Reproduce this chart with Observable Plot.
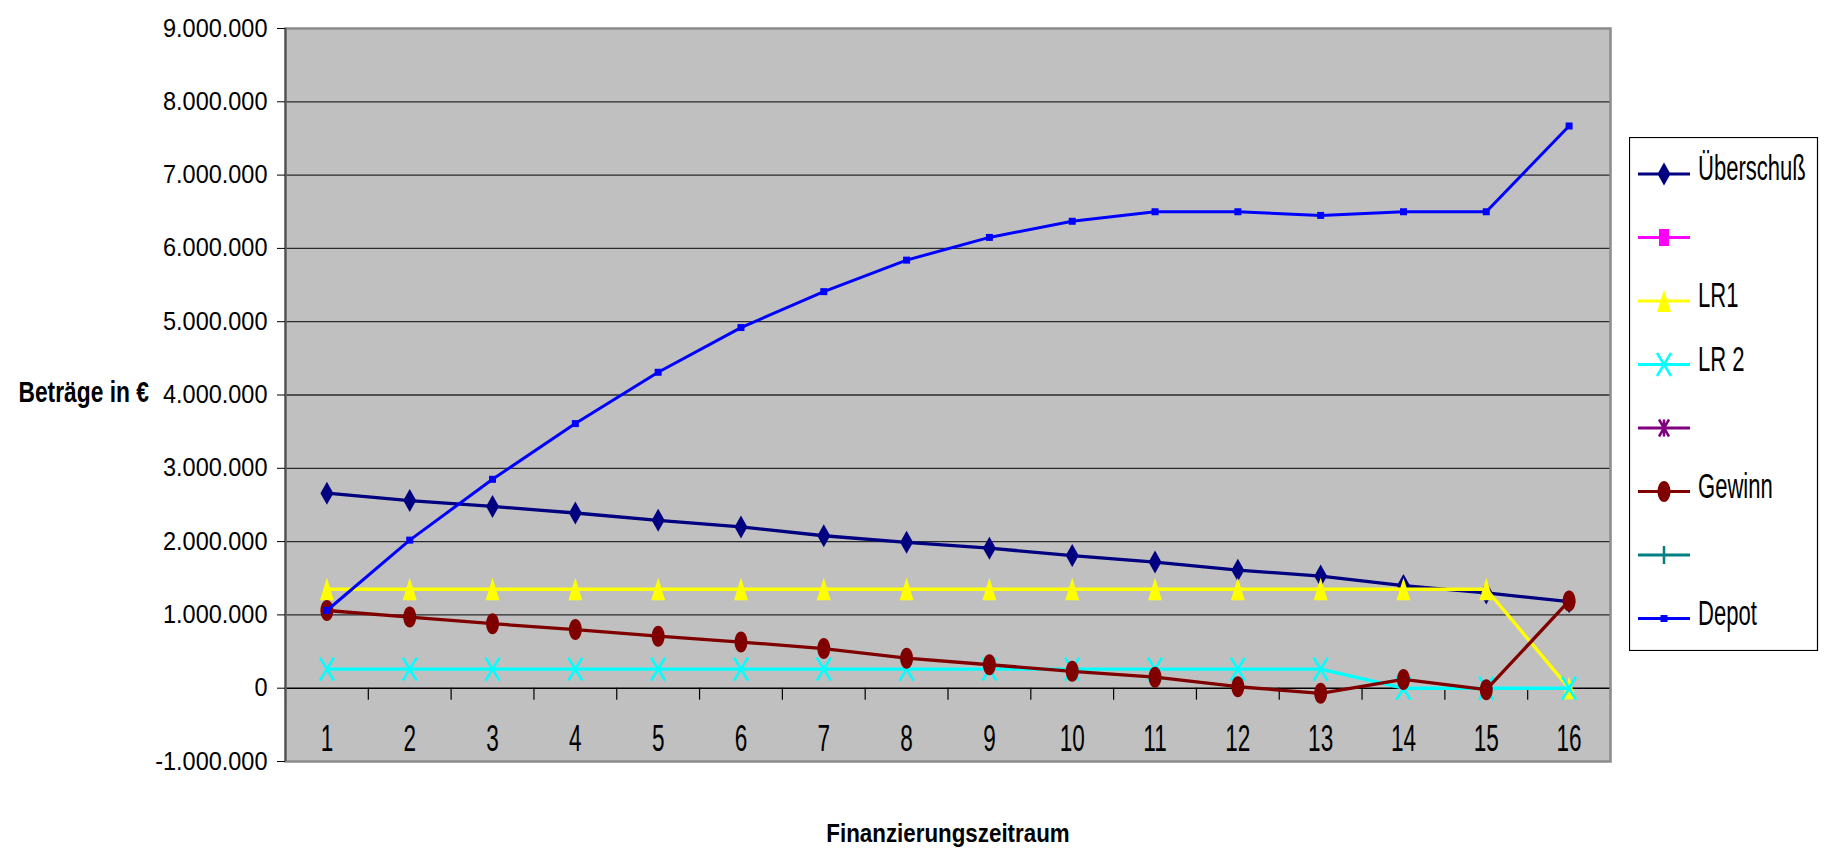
<!DOCTYPE html>
<html>
<head>
<meta charset="utf-8">
<script src="https://cdn.jsdelivr.net/npm/d3@7"></script>
<script src="https://cdn.jsdelivr.net/npm/@observablehq/plot@0.6"></script>
<style>
  html, body { margin: 0; padding: 0; background: #fff; }
  #wrap { position: relative; width: 1827px; height: 852px; overflow: hidden; }
  #legend { position: absolute; left: 1629px; top: 137px; }
</style>
</head>
<body>
<div id="wrap"></div>
<script>
// ---------- data ----------
const periods = [1, 2, 3, 4, 5, 6, 7, 8, 9, 10, 11, 12, 13, 14, 15, 16];
const ueberschuss = [2660000, 2560000, 2480000, 2390000, 2290000, 2200000, 2080000, 1990000, 1910000, 1810000, 1720000, 1610000, 1530000, 1400000, 1300000, 1180000];
const lr1 = [1350000, 1350000, 1350000, 1350000, 1350000, 1350000, 1350000, 1350000, 1350000, 1350000, 1350000, 1350000, 1350000, 1350000, 1350000, 0];
const lr2 = [260000, 260000, 260000, 260000, 260000, 260000, 260000, 260000, 260000, 260000, 260000, 260000, 260000, 0, 0, 0];
const gewinn = [1060000, 970000, 880000, 800000, 710000, 630000, 540000, 410000, 320000, 230000, 150000, 20000, -70000, 120000, -20000, 1190000];
const depot = [1060000, 2020000, 2850000, 3610000, 4310000, 4920000, 5410000, 5840000, 6150000, 6370000, 6500000, 6500000, 6450000, 6500000, 6500000, 7670000];
const yTicks = [-1000000, 0, 1000000, 2000000, 3000000, 4000000, 5000000, 6000000, 7000000, 8000000, 9000000];
const gridValues = [1000000, 2000000, 3000000, 4000000, 5000000, 6000000, 7000000, 8000000];
const xBoundaries = [0.5, 1.5, 2.5, 3.5, 4.5, 5.5, 6.5, 7.5, 8.5, 9.5, 10.5, 11.5, 12.5, 13.5, 14.5, 15.5, 16.5];
const legendLabels = ["Überschuß", "", "LR1", "LR 2", "", "Gewinn", "", "Depot"];
const yTitle = "Beträge in €";
const xTitle = "Finanzierungszeitraum";

// ---------- formatting ----------
const fmt = d3.formatLocale({decimal: ",", thousands: ".", grouping: [3], currency: ["", "€"], minus: "-"}).format(",");

// ---------- marker symbols ----------
const K = 0.5523;
const diamond = {draw(c) { c.moveTo(0, -11.5); c.lineTo(6.5, 0); c.lineTo(0, 11.5); c.lineTo(-6.5, 0); c.closePath(); }};
const triangle = {draw(c) { c.moveTo(0, -11.5); c.lineTo(7, 11); c.lineTo(-7, 11); c.closePath(); }};
const ellipse = {draw(c) {
  const rx = 6.5, ry = 10.5;
  c.moveTo(rx, 0);
  c.bezierCurveTo(rx, ry * K, rx * K, ry, 0, ry);
  c.bezierCurveTo(-rx * K, ry, -rx, ry * K, -rx, 0);
  c.bezierCurveTo(-rx, -ry * K, -rx * K, -ry, 0, -ry);
  c.bezierCurveTo(rx * K, -ry, rx, -ry * K, rx, 0);
  c.closePath();
}};
const crossX = {draw(c) { c.moveTo(-7, -11.5); c.lineTo(7, 11.5); c.moveTo(7, -11.5); c.lineTo(-7, 11.5); }};
const smallSquare = {draw(c) { c.rect(-3.5, -3.5, 7, 7); }};
const bigSquare = {draw(c) { c.rect(-5, -8.5, 10, 17); }};
const asterisk = {draw(c) { c.moveTo(-5, -8.5); c.lineTo(5, 8.5); c.moveTo(5, -8.5); c.lineTo(-5, 8.5); c.moveTo(0, -8.5); c.lineTo(0, 8.5); }};
const plus = {draw(c) { c.moveTo(0, -9); c.lineTo(0, 9); }};

const series = [
  {values: ueberschuss, color: "#000080", symbol: diamond, filled: true, lw: 3.3},
  {values: lr1, color: "#FFFF00", symbol: triangle, filled: true, lw: 3.4},
  {values: lr2, color: "#00FFFF", symbol: crossX, filled: false, lw: 3.4},
  {values: gewinn, color: "#800000", symbol: ellipse, filled: true, lw: 3.3},
  {values: depot, color: "#0000FF", symbol: smallSquare, filled: true, lw: 3}
];
const legendStyles = [
  {color: "#000080", symbol: diamond, filled: true},
  {color: "#FF00FF", symbol: bigSquare, filled: true},
  {color: "#FFFF00", symbol: triangle, filled: true},
  {color: "#00FFFF", symbol: crossX, filled: false},
  {color: "#800080", symbol: asterisk, filled: false},
  {color: "#800000", symbol: ellipse, filled: true},
  {color: "#008080", symbol: plus, filled: false},
  {color: "#0000FF", symbol: smallSquare, filled: true}
];

const rows = (values) => periods.map((p, i) => ({period: p, value: values[i]}));

const seriesMarks = series.flatMap(s => [
  Plot.line(rows(s.values), {x: "period", y: "value", stroke: s.color, strokeWidth: s.lw, strokeLinejoin: "round"}),
  Plot.dot(rows(s.values), {x: "period", y: "value", symbol: s.symbol, r: 5,
    fill: s.filled ? s.color : "none", stroke: s.filled ? "none" : s.color, strokeWidth: 2.6})
]);

const chart = Plot.plot({
  width: 1827,
  height: 852,
  marginLeft: 285,
  marginRight: 217,
  marginTop: 28,
  marginBottom: 91,
  style: {fontFamily: "'Liberation Sans', Arial, sans-serif", background: "transparent", color: "#000", fontSize: "25px"},
  x: {domain: [0.5, 16.5], axis: null},
  y: {domain: [-1000000, 9000000], axis: null},
  marks: [
    Plot.frame({fill: "#c0c0c0"}),
    Plot.gridY(gridValues, {stroke: "#2a2a2a", strokeOpacity: 1, strokeWidth: 1.3}),
    Plot.ruleY([0], {stroke: "#000", strokeWidth: 1.6}),
    Plot.ruleX(xBoundaries, {x: d => d, y1: 0, y2: 0, insetTop: 12, stroke: "#000", strokeWidth: 1.2}),
    Plot.frame({stroke: "#8c8c8c", strokeWidth: 2.5}),
    Plot.ruleX([0.5], {stroke: "#505050", strokeWidth: 2}),
    Plot.axisY({ticks: yTicks, tickFormat: fmt, tickSize: 8, tickPadding: 10, fontSize: 25, label: null}),
    Plot.axisX({ticks: periods, tickFormat: d => String(d), tickSize: 0, tickPadding: 0, dy: -37, fontSize: 37, label: null}),
    ...seriesMarks,
    Plot.text([yTitle], {text: d => d, frameAnchor: "left", dx: -267, dy: -3, textAnchor: "start", fontWeight: "bold", fontSize: 30}),
    Plot.text([xTitle], {text: d => d, frameAnchor: "bottom", dy: 80, fontWeight: "bold", fontSize: 26})
  ]
});

const wrap = document.getElementById("wrap");
wrap.appendChild(chart);

// ---------- legend ----------
const LW = 190, LH = 514;
const legend = d3.create("svg").attr("id", "legend").attr("width", LW).attr("height", LH)
  .style("font-family", "'Liberation Sans', Arial, sans-serif");
legend.append("rect").attr("x", 0.5).attr("y", 0.5).attr("width", LW - 2).attr("height", LH - 1)
  .attr("fill", "#fff").attr("stroke", "#000").attr("stroke-width", 1.2);
legendLabels.forEach((label, i) => {
  const st = legendStyles[i];
  const cy = 37 + i * 63.5;
  const g = legend.append("g").attr("transform", `translate(0,${cy})`);
  g.append("line").attr("x1", 9).attr("x2", 61).attr("y1", 0).attr("y2", 0)
    .attr("stroke", st.color).attr("stroke-width", 3);
  g.append("path").attr("transform", "translate(35,0)")
    .attr("d", d3.symbol(st.symbol, 64)())
    .attr("fill", st.filled ? st.color : "none")
    .attr("stroke", st.filled ? "none" : st.color)
    .attr("stroke-width", 2.5);
  if (label) {
    g.append("text").attr("class", "legtext").attr("x", 69).attr("y", 6)
      .attr("font-size", 35).attr("fill", "#000").text(label);
  }
});
wrap.appendChild(legend.node());

// ---------- condense text horizontally like the reference ----------
function condense(nodes, factor) {
  nodes.forEach(t => {
    const b = t.getBBox();
    if (!b.width) return;
    const anchor = getComputedStyle(t).textAnchor;
    const ax = anchor === "middle" ? b.x + b.width / 2 : anchor === "end" ? b.x + b.width : b.x;
    const prev = t.getAttribute("transform") || "";
    t.setAttribute("transform", `${prev} translate(${ax.toFixed(2)},0) scale(${factor},1) translate(${(-ax).toFixed(2)},0)`.trim());
  });
}
const allText = Array.from(chart.querySelectorAll("text"));
const yTickStrings = yTicks.map(fmt);
const xTickStrings = periods.map(String);
condense(allText.filter(t => yTickStrings.includes(t.textContent)), 0.94);
condense(allText.filter(t => xTickStrings.includes(t.textContent)), 0.61);
condense(allText.filter(t => t.textContent === yTitle), 0.76);
condense(allText.filter(t => t.textContent === xTitle), 0.86);
condense(Array.from(document.querySelectorAll('#legend .legtext')), 0.63);
</script>
</body>
</html>
